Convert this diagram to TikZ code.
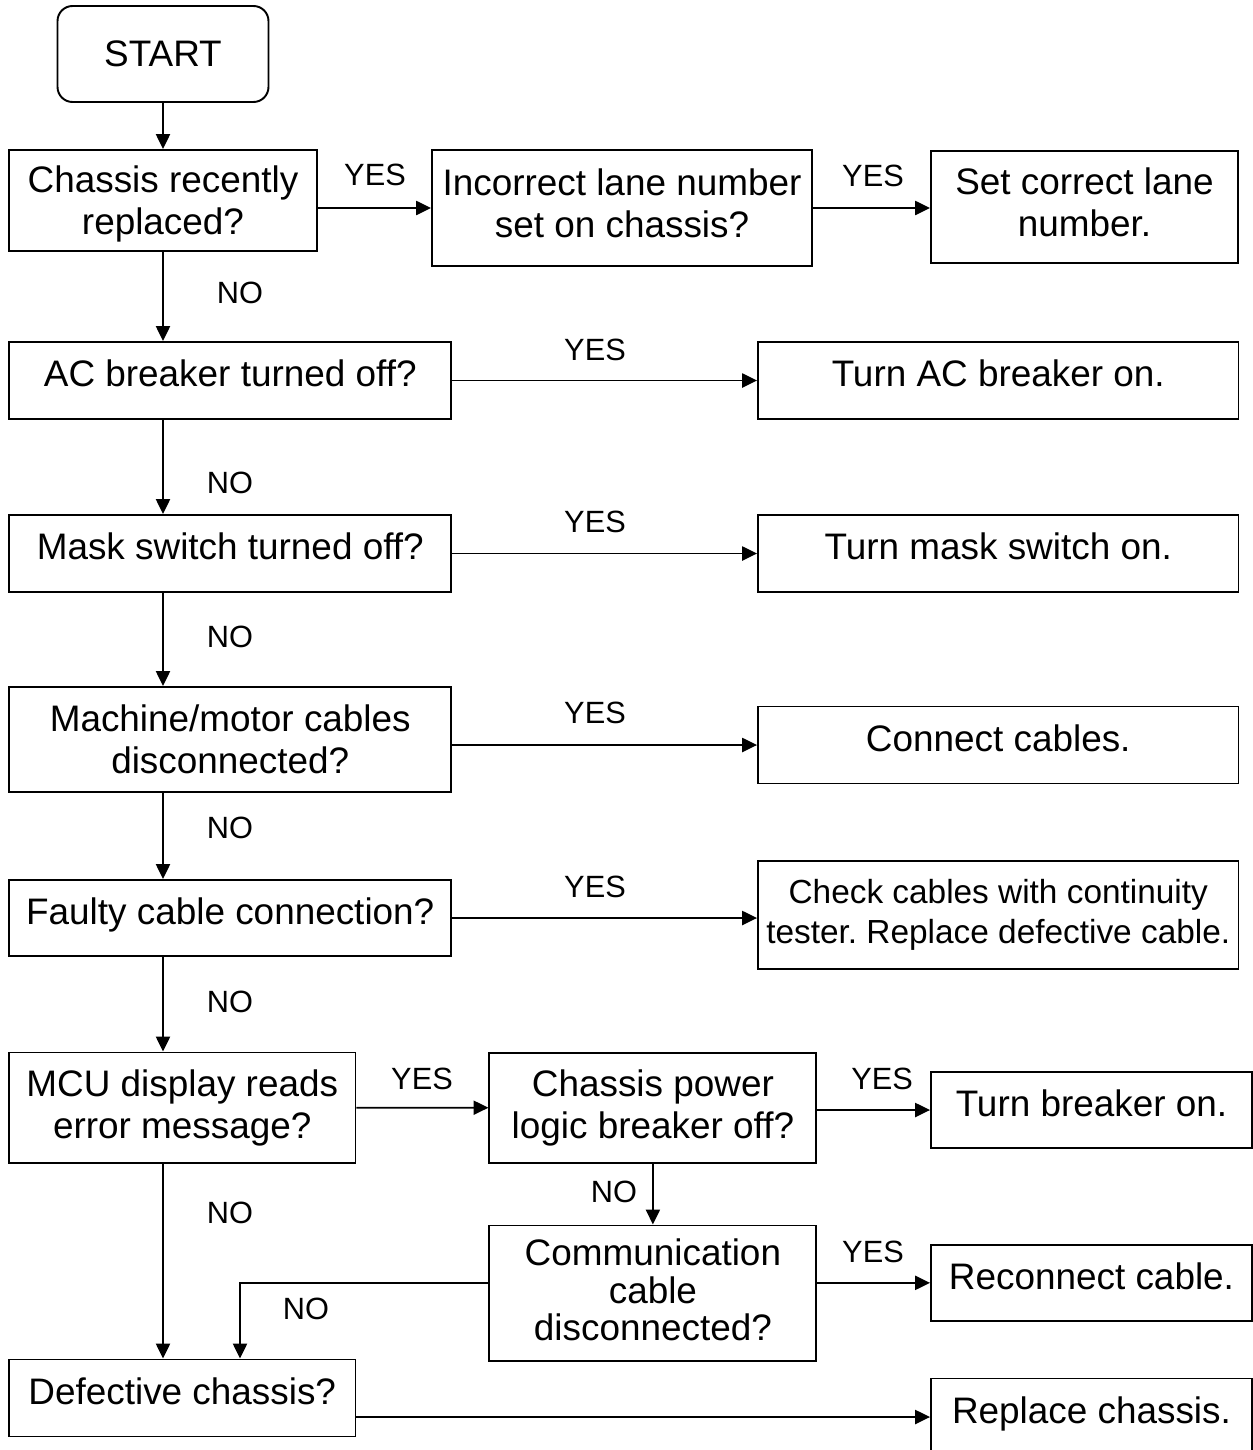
\documentclass[tikz,border=0pt]{standalone}
\usepackage{fontspec}
\setmainfont{Liberation Sans}
\usetikzlibrary{arrows.meta}
\frenchspacing

\begin{document}
\begin{tikzpicture}[x=0.02cm,y=-0.02cm,
  box/.style={rectangle,draw,line width=1.1pt,inner sep=2pt,align=center,font=\fontsize{21}{24}\selectfont},
  oneline/.style={text depth=8pt},
  term/.style={box,rounded corners=0.3cm},
  lbl/.style={inner sep=0pt,font=\fontsize{17.5}{20}\selectfont},
  arr/.style={-{Triangle[length=8.5pt,width=8pt]},line width=1.1pt}
]
\useasboundingbox (0,0) rectangle (1253,1450);

% left column of questions
\node[term,minimum width=4.22cm,minimum height=1.92cm] (start) at (163,54) {START};
\node[box,text depth=0pt,minimum width=6.16cm,minimum height=2.02cm] (q1) at (163,200.5) {Chassis recently\\replaced?};
\node[box,oneline,minimum width=8.85cm,minimum height=1.54cm] (q2) at (230.25,380.5) {AC breaker turned off?};
\node[box,oneline,minimum width=8.85cm,minimum height=1.54cm] (q3) at (230.25,553.5) {Mask switch turned off?};
\node[box,minimum width=8.85cm,minimum height=2.1cm] (q4) at (230.25,739.5) {Machine/motor cables\\disconnected?};
\node[box,oneline,minimum width=8.85cm,minimum height=1.52cm] (q5) at (230.25,918) {Faulty cable connection?};
\node[box,minimum width=6.93cm,minimum height=2.21cm] (q6) at (182.25,1107.75) {MCU display reads\\error message?};
\node[box,oneline,minimum width=6.93cm,minimum height=1.54cm] (def) at (182.25,1398) {Defective chassis?};

% middle column
\node[box,text depth=6pt,minimum width=7.6cm,minimum height=2.32cm] (lane) at (622,208) {Incorrect lane number\\set on chassis?};
\node[box,minimum width=6.54cm,minimum height=2.2cm] (cp) at (652.9,1107.7) {Chassis power\\logic breaker off?};
\node[box,text depth=4pt,font=\fontsize{21}{21.3}\selectfont,minimum width=6.54cm,minimum height=2.71cm] (comm) at (652.9,1293.2) {Communication\\cable\\disconnected?};

% actions
\node[box,text depth=6pt,minimum width=6.14cm,minimum height=2.24cm] (a1) at (1084.5,207) {Set correct lane\\number.};
\node[box,oneline,minimum width=9.61cm,minimum height=1.54cm] (a2) at (998.25,380.5) {Turn AC breaker on.};
\node[box,oneline,minimum width=9.61cm,minimum height=1.54cm] (a3) at (998.25,553.5) {Turn mask switch on.};
\node[box,oneline,minimum width=9.61cm,minimum height=1.54cm] (a4) at (998.25,745) {Connect cables.};
\node[box,font=\fontsize{19}{22.7}\selectfont,minimum width=9.61cm,minimum height=2.16cm] (a5) at (998.25,915) {Check cables with continuity\\tester. Replace defective cable.};
\node[box,oneline,minimum width=6.42cm,minimum height=1.52cm] (a6) at (1091.5,1110) {Turn breaker on.};
\node[box,oneline,minimum width=6.42cm,minimum height=1.53cm] (a7) at (1091.5,1282.85) {Reconnect cable.};
\node[box,oneline,minimum width=6.42cm,minimum height=1.54cm] (a8) at (1091.5,1417) {Replace chassis.};

% YES / NO labels
\node[lbl] (y1) at (375,175) {YES};
\node[lbl] (y2) at (873,176) {YES};
\node[lbl] (y3) at (595,350) {YES};
\node[lbl] (y4) at (595,522) {YES};
\node[lbl] (y5) at (595,713) {YES};
\node[lbl] (y6) at (595,887) {YES};
\node[lbl] (y7) at (422,1079) {YES};
\node[lbl] (y8) at (882,1079) {YES};
\node[lbl] (y9) at (873,1252) {YES};
\node[lbl] (n1) at (240,293) {NO};
\node[lbl] (n2) at (230,483) {NO};
\node[lbl] (n3) at (230,637) {NO};
\node[lbl] (n4) at (230,828) {NO};
\node[lbl] (n5) at (230,1002) {NO};
\node[lbl] (n6) at (230,1213) {NO};
\node[lbl] (n7) at (614,1192) {NO};
\node[lbl] (n8) at (306,1309) {NO};

\coordinate (bend) at (240,1283);

% connectors
\draw[arr] (start.south) -- (q1.north);
\draw[arr] (q1.east |- lane.west) -- (lane.west);
\draw[arr] (lane.east) -- (lane.east -| a1.west);
\draw[arr] (q1.south) -- (q1 |- q2.north);
\draw[arr] (q2.east) -- (a2.west);
\draw[arr] (q1 |- q2.south) -- (q1 |- q3.north);
\draw[arr] (q3.east) -- (a3.west);
\draw[arr] (q1 |- q3.south) -- (q1 |- q4.north);
\draw[arr] (q4.east |- a4.west) -- (a4.west);
\draw[arr] (q1 |- q4.south) -- (q1 |- q5.north);
\draw[arr] (q5.east) -- (q5.east -| a5.west);
\draw[arr] (q1 |- q5.south) -- (q1 |- q6.north);
\draw[arr] (q6.east) -- (cp.west);
\draw[arr] (cp.east |- a6.west) -- (a6.west);
\draw[arr] (cp.south) -- (comm.north);
\draw[arr] (comm.east |- a7.west) -- (a7.west);
\draw[arr] (comm.west |- bend) -- (bend) -- (bend |- def.north);
\draw[arr] (q1 |- q6.south) -- (q1 |- def.north);
\draw[arr] (def.east |- a8.west) -- (a8.west);
\end{tikzpicture}
\end{document}
